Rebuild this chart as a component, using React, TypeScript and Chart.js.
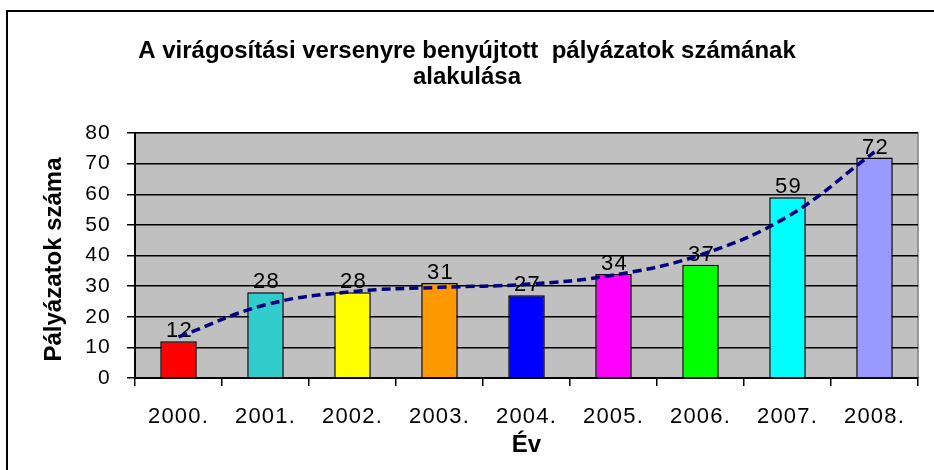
import React, { useEffect, useRef } from "react";
import { Chart, registerables } from "chart.js";

Chart.register(...registerables);

const categories = ["2000.", "2001.", "2002.", "2003.", "2004.", "2005.", "2006.", "2007.", "2008."];
const counts = [12, 28, 28, 31, 27, 34, 37, 59, 72];
const trend = [13.4, 23.9, 28.2, 29.6, 30.6, 33.6, 40.2, 52.7, 73.8];
const barColors = ["#FF0000", "#33CCCC", "#FFFF00", "#FF9900", "#0000FF", "#FF00FF", "#00FF00", "#00FFFF", "#9999FF"];
const titleLines = ["A virágosítási versenyre benyújtott  pályázatok számának", "alakulása"];
const yTitle = "Pályázatok száma";
const xTitle = "Év";

const FONT = "Arial, 'Liberation Sans', sans-serif";
const SPACING = "1.2px";

const plotBg = {
  id: "plotBg",
  beforeDraw(chart: any) {
    const { ctx, chartArea: a } = chart;
    (ctx as any).letterSpacing = SPACING;
    ctx.save();
    ctx.fillStyle = "#C0C0C0";
    ctx.fillRect(a.left, a.top, a.right - a.left, a.bottom - a.top);
    ctx.strokeStyle = "#808080";
    ctx.lineWidth = 1.5;
    ctx.beginPath();
    ctx.moveTo(a.left, a.top);
    ctx.lineTo(a.right, a.top);
    ctx.lineTo(a.right, a.bottom);
    ctx.stroke();
    ctx.restore();
  },
};

const barLabels = {
  id: "barLabels",
  afterDatasetDraw(chart: any, args: any) {
    if (args.index !== 0) return;
    const { ctx } = chart;
    const meta = chart.getDatasetMeta(0);
    ctx.save();
    (ctx as any).letterSpacing = SPACING;
    ctx.fillStyle = "#000";
    ctx.font = `22px ${FONT}`;
    ctx.textAlign = "center";
    ctx.textBaseline = "alphabetic";
    meta.data.forEach((el: any, i: number) => {
      ctx.fillText(String(counts[i]), el.x + 1, el.y - 4);
    });
    ctx.restore();
  },
};

const titles = {
  id: "titles",
  afterDraw(chart: any) {
    const { ctx, chartArea: a, width } = chart;
    ctx.save();
    (ctx as any).letterSpacing = "0px";
    ctx.fillStyle = "#000";
    ctx.textAlign = "center";
    ctx.textBaseline = "alphabetic";
    ctx.font = `bold 24px ${FONT}`;
    ctx.fillText(titleLines[0], width / 2, 58);
    ctx.fillText(titleLines[1], width / 2, 84);
    ctx.fillText(xTitle, (a.left + a.right) / 2, 452);
    ctx.translate(61, (a.top + a.bottom) / 2 + 4);
    ctx.rotate(-Math.PI / 2);
    ctx.fillText(yTitle, 0, 0);
    ctx.restore();
  },
};

export default function App() {
  const ref = useRef<HTMLCanvasElement>(null);
  useEffect(() => {
    const chart = new Chart(ref.current as HTMLCanvasElement, {
      type: "bar",
      data: {
        labels: categories,
        datasets: [
          {
            type: "bar",
            data: counts,
            backgroundColor: barColors,
            borderColor: "#000",
            borderWidth: 1.5,
            barPercentage: 0.42,
            categoryPercentage: 1,
            order: 2,
          } as any,
          {
            type: "line",
            data: trend,
            borderColor: "#000080",
            borderWidth: 3.5,
            borderDash: [9, 5],
            pointRadius: 0,
            tension: 0.4,
            fill: false,
            order: 1,
          } as any,
        ],
      },
      options: {
        animation: false,
        responsive: false,
        layout: { padding: { left: 0, right: 16, top: 133, bottom: 0 } },
        plugins: {
          legend: { display: false },
          tooltip: { enabled: false },
          title: { display: false },
        },
        scales: {
          x: {
            offset: true,
            grid: {
              offset: true,
              drawOnChartArea: false,
              drawTicks: true,
              tickLength: 8,
              color: "#000",
              lineWidth: 1.5,
            },
            border: { display: true, color: "#000", width: 2 },
            ticks: { color: "#000", font: { family: FONT, size: 22 }, padding: 18, maxRotation: 0 },
            title: { display: false },
            afterFit(scale: any) {
              scale.height = 92;
            },
          },
          y: {
            min: 0,
            max: 80,
            ticks: { stepSize: 10, color: "#000", font: { family: FONT, size: 21 }, padding: 16 },
            grid: { color: "#000", lineWidth: 1.5, tickLength: 8, drawTicks: true },
            border: { display: true, color: "#000", width: 2 },
            title: { display: false },
            afterFit(scale: any) {
              scale.width = 135;
            },
          },
        },
      },
      plugins: [plotBg, barLabels, titles],
    } as any);
    return () => chart.destroy();
  }, []);

  return (
    <div style={{ position: "fixed", left: 0, top: 0, width: 934, height: 470, background: "#fff", overflow: "hidden" }}>
      <canvas ref={ref} width={934} height={470} style={{ display: "block", position: "absolute", left: 0, top: 0 }} />
      <div
        style={{
          position: "absolute",
          left: 6,
          top: 10,
          width: 940,
          height: 480,
          borderLeft: "2px solid #000",
          borderTop: "2px solid #000",
          pointerEvents: "none",
        }}
      />
    </div>
  );
}
